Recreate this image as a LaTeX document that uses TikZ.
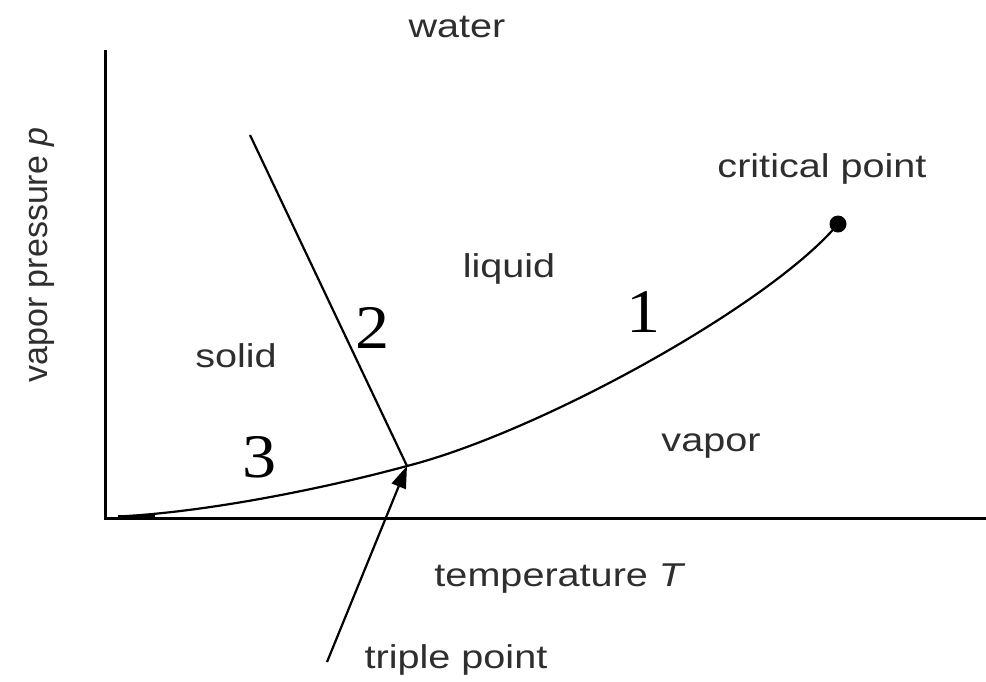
\documentclass[tikz,border=0pt]{standalone}
\usepackage{fontspec}
\usepackage{graphicx}
\setmainfont{Liberation Sans}
\newfontfamily\numfont{Liberation Serif}
\usetikzlibrary{arrows.meta}
\newcommand{\wide}[1]{\scalebox{1.2}[1]{#1}}
\newcommand{\widenum}[1]{\scalebox{1.1}[1]{#1}}
\begin{document}
\begin{tikzpicture}[x=1pt,y=-1pt,
  lab/.style={text=black!82, inner sep=0pt, anchor=base, font=\fontsize{33}{38}\selectfont},
  num/.style={inner sep=0pt, anchor=base, font=\numfont\fontsize{62}{70}\selectfont},
  axis/.style={line width=3pt},
  curve/.style={line width=2.2pt},
  dot/.style={circle, fill=black, inner sep=0pt, minimum size=17pt}]
\useasboundingbox (0,0) rectangle (986,681);
% axes
\coordinate (ytop) at (105,50);
\coordinate (orig) at (105,518);
\coordinate (xend) at (986,518);
\draw[axis] (ytop) -- (orig) -- (xend);
% curve start
\coordinate (cs) at (118,516.5);
\coordinate (cs2) at (155,516.5);
\draw[line width=3.5pt] (cs) -- (cs2);
% critical point and triple point
\node[dot] (cp) at (838,224) {};
\coordinate (tp) at (407,466);
\draw[curve] (cs) .. controls (210,512) and (330,487) .. (tp)
  .. controls (540,432) and (770,305) .. (cp.center);
% melting line
\coordinate (mtop) at (250,135);
\draw[curve] (mtop) -- (tp);
% arrow to triple point
\coordinate (tail) at (327,662);
\draw[line width=2.2pt, -{Triangle[length=22pt,width=15pt]}] (tail) -- (tp);
% labels
\node[lab] (water) at (457,37) {\wide{water}};
\node[lab, rotate=90, font=\fontsize{34}{38}\selectfont] (ylab) at (47,255) {vapor pressure \textit{p}};
\node[lab] (crit) at (822,177) {\wide{critical point}};
\node[lab] (liq) at (509,277) {\wide{liquid}};
\node[lab] (sol) at (236,367) {\wide{solid}};
\node[lab] (vap) at (711,451) {\wide{vapor}};
\node[lab] (temp) at (560,586) {\wide{temperature \textit{T}}};
\node[lab] (triple) at (456,668) {\wide{triple point}};
\node[num] (n1) at (644,332) {\widenum{1}};
\node[num] (n2) at (373,348) {\widenum{2}};
\node[num] (n3) at (260,477) {\widenum{3}};
\end{tikzpicture}
\end{document}
